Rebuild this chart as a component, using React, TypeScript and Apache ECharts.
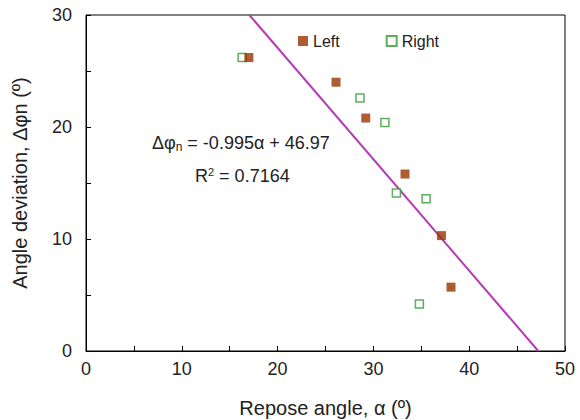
import React, { useEffect, useRef } from "react";
import * as echarts from "echarts";

const leftData: [number, number][] = [
  [17.0, 26.2],
  [26.1, 24.0],
  [29.2, 20.8],
  [33.3, 15.8],
  [37.1, 10.3],
  [38.1, 5.7],
];
const rightData: [number, number][] = [
  [16.3, 26.2],
  [28.6, 22.6],
  [31.2, 20.4],
  [32.4, 14.1],
  [35.5, 13.6],
  [34.8, 4.2],
];
const slope = -0.995;
const intercept = 46.97;
const fitLine: [number, number][] = [
  [(30 - intercept) / slope, 30],
  [(0 - intercept) / slope, 0],
];

const FONT = "Liberation Sans, Arial, sans-serif";

export default function App() {
  const ref = useRef<HTMLDivElement>(null);
  useEffect(() => {
    if (!ref.current) return;
    const chart = echarts.init(ref.current, undefined, { renderer: "svg" });
    chart.setOption({
      animation: false,
      textStyle: { fontFamily: FONT },
      grid: {
        left: 86,
        right: 15,
        top: 15,
        bottom: 69,
        show: true,
        borderColor: "#000",
        borderWidth: 1,
        outerBoundsMode: "none",
        containLabel: false,
      },
      legend: {
        top: 28,
        left: 293,
        itemGap: 46,
        itemWidth: 10,
        itemHeight: 10,
        textStyle: { fontSize: 16, color: "#222", fontFamily: FONT },
        data: [
          { name: "Left", icon: "rect" },
          { name: "Right", icon: "rect" },
        ],
      },
      xAxis: {
        type: "value",
        min: 0,
        max: 50,
        interval: 10,
        name: "Repose angle, α (º)",
        nameLocation: "middle",
        nameGap: 47,
        nameTextStyle: { fontSize: 20, color: "#222", fontFamily: FONT },
        axisLine: { lineStyle: { color: "#000" } },
        axisTick: { inside: true, length: 5, lineStyle: { color: "#000" } },
        minorTick: { show: true, splitNumber: 2, length: 5, lineStyle: { color: "#000" } },
        axisLabel: { fontSize: 18, color: "#222", margin: 9 },
        splitLine: { show: false },
      },
      yAxis: {
        type: "value",
        min: 0,
        max: 30,
        interval: 10,
        name: "Angle deviation, Δφn (º)",
        nameLocation: "middle",
        nameGap: 56,
        nameTextStyle: { fontSize: 20, color: "#222", fontFamily: FONT },
        axisLine: { show: true, lineStyle: { color: "#000" } },
        axisTick: { show: true, inside: true, length: 5, lineStyle: { color: "#000" } },
        minorTick: { show: true, splitNumber: 2, length: 5, lineStyle: { color: "#000" } },
        axisLabel: { fontSize: 18, color: "#222", margin: 14 },
        splitLine: { show: false },
      },
      graphic: [
        {
          type: "text",
          left: 152,
          top: 134,
          style: {
            text: "{a|Δφ}{s|n}{a| = -0.995α + 46.97}",
            rich: {
              a: { fontSize: 18, fontFamily: FONT, fill: "#222" },
              s: { fontSize: 12, fontFamily: FONT, fill: "#222", verticalAlign: "bottom", padding: [7, 0, 0, 0] },
            },
          },
        },
        {
          type: "text",
          left: 195,
          top: 166,
          style: {
            text: "{a|R}{p|2}{a| = 0.7164}",
            rich: {
              a: { fontSize: 18, fontFamily: FONT, fill: "#222" },
              p: { fontSize: 11, fontFamily: FONT, fill: "#222", verticalAlign: "top", padding: [0, 0, 9, 0] },
            },
          },
        },
      ],
      series: [
        {
          name: "Fit",
          type: "line",
          data: fitLine,
          symbol: "none",
          lineStyle: { color: "#B43CB4", width: 2 },
          z: 1,
        },
        {
          name: "Left",
          type: "scatter",
          data: leftData,
          symbol: "rect",
          symbolSize: 9,
          itemStyle: { color: "#993300" },
          z: 3,
        },
        {
          name: "Right",
          type: "scatter",
          data: rightData,
          symbol: "rect",
          symbolSize: 8,
          itemStyle: { color: "#fff", borderColor: "#339933", borderWidth: 1.5 },
          z: 2,
        },
      ],
    });
    return () => chart.dispose();
  }, []);
  return (
    <div
      ref={ref}
      style={{ position: "absolute", left: 0, top: 0, width: 580, height: 420 }}
    />
  );
}
